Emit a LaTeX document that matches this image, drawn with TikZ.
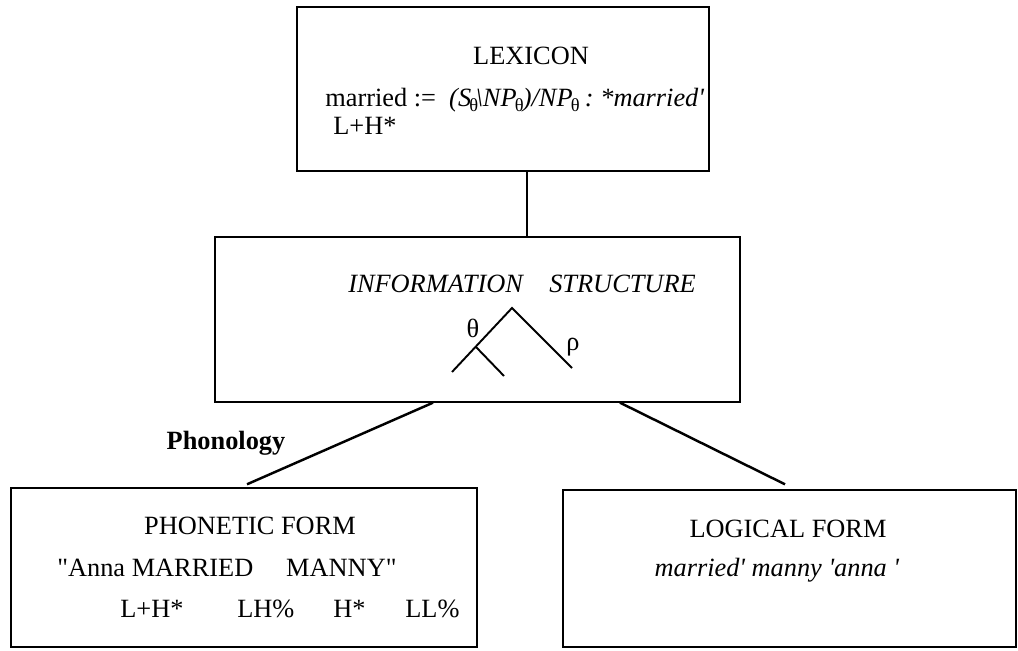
\documentclass[tikz,border=0pt]{standalone}
\usepackage{fontspec}
\setmainfont{Liberation Serif}
\usetikzlibrary{calc}
\newcommand{\thsub}{\textsubscript{\upshape θ}}
\tikzset{
  box/.style={draw,rectangle,line width=0.8pt,inner sep=0pt},
  txt/.style={anchor=base,inner sep=0pt,font=\fontsize{15}{18}\selectfont},
  link/.style={line width=1.4pt},
  branch/.style={line width=1.1pt}
}
\begin{document}
\begin{tikzpicture}[x=0.02cm,y=-0.02cm]
            \useasboundingbox (0,0) rectangle (1018,651);
            \node[box,minimum width=8.24cm,minimum height=3.28cm] (lex) at (503,89) {};
            \node[box,minimum width=10.5cm,minimum height=3.3cm] (info) at (477.5,319.5) {};
            \node[box,minimum width=9.32cm,minimum height=3.18cm] (phon) at (244,567.5) {};
            \node[box,minimum width=9.06cm,minimum height=3.14cm] (logic) at (789.5,568.5) {};
            \node[txt] (lexname) at (531,65) {LEXICON};
            \node[txt,anchor=base west] (entry) at (325,107) {married\ :=\ \ \textit{(S\kern-1pt\thsub\kern-2pt\textbackslash NP\kern-1pt\thsub\kern-1pt)/NP\kern-1pt\thsub\,:\ *married\textquotesingle}};
            \node[txt,anchor=base west] (accent) at (333,135) {L+H*};
            \node[txt] (infoname) at (522,293) {\textit{INFORMATION\quad STRUCTURE}};
            \node[txt] (phonname) at (250,535) {PHONETIC FORM};
            \node[txt,anchor=base west] (utter) at (57,577) {\textquotedbl Anna MARRIED\quad\ MANNY\textquotedbl};
            \foreach \x/\t in {120/L+H*,237/LH\%,333/H*,405/LL\%}
            \node[txt,anchor=base west] (tone\x) at (\x,618) {\t};
            \node[txt] (logicname) at (788,538) {LOGICAL FORM};
            \node[txt] (lf) at (777,577) {\textit{married\textquotesingle\ manny \textquotesingle anna \textquotesingle}};
            \node[txt,font=\fontsize{15}{18}\selectfont\bfseries] (phonology) at (226,450) {Phonology};
            \coordinate (stem) at (527,0);
            \coordinate (pl) at (433,0);
            \coordinate (pr) at (247,0);
            \coordinate (ll) at (620,0);
            \coordinate (lr) at (785,0);
            \draw[link] (lex.south -| stem) -- (info.north -| stem);
            \draw[link] (info.south -| pl) -- ($(phon.north -| pr)+(0,-3)$);
            \draw[link] (info.south -| ll) -- ($(logic.north -| lr)+(0,-5)$);
            \coordinate (apex) at (512,308);
            \coordinate (mid) at (476,347);
            \coordinate (leafl) at (452,372);
            \coordinate (leafm) at (504,376);
            \coordinate (leafr) at (572,368);
            \draw[branch] (leafl) -- (apex) -- (leafr);
            \draw[branch] (mid) -- (leafm);
            \node[txt,anchor=center] (theta) at (473,328) {θ};
            \node[txt,anchor=center] (rho) at (573,347) {ρ};
        \end{tikzpicture}
\end{document}
